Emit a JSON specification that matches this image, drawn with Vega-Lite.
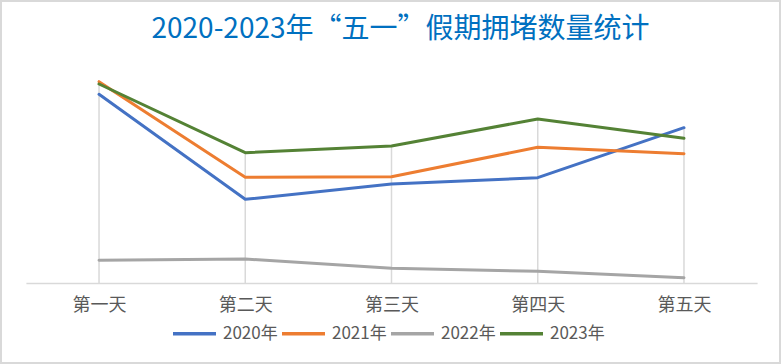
{
  "$schema": "https://vega.github.io/schema/vega-lite/v6.json",
  "width": 779,
  "height": 362,
  "padding": 1,
  "autosize": {"type": "none"},
  "background": "white",
  "config": {
    "view": {"stroke": "#d9d9d9", "strokeWidth": 2},
    "font": "Noto Sans CJK SC"
  },
  "title": {
    "text": "2020-2023年“五一”假期拥堵数量统计",
    "color": "#0070C0",
    "fontSize": 28,
    "fontWeight": "normal",
    "font": "Noto Sans CJK SC",
    "anchor": "middle",
    "frame": "group",
    "offset": 0,
    "dx": 10,
    "dy": 43
  },
  "data": {
    "values": [
      {"day": "第一天", "year": "2020年", "value": 188.7},
      {"day": "第二天", "year": "2020年", "value": 83.7},
      {"day": "第三天", "year": "2020年", "value": 99},
      {"day": "第四天", "year": "2020年", "value": 105.3},
      {"day": "第五天", "year": "2020年", "value": 155.3},
      {"day": "第一天", "year": "2021年", "value": 201.3},
      {"day": "第二天", "year": "2021年", "value": 105.7},
      {"day": "第三天", "year": "2021年", "value": 106.3},
      {"day": "第四天", "year": "2021年", "value": 135.7},
      {"day": "第五天", "year": "2021年", "value": 129.3},
      {"day": "第一天", "year": "2022年", "value": 22.7},
      {"day": "第二天", "year": "2022年", "value": 24},
      {"day": "第三天", "year": "2022年", "value": 14.7},
      {"day": "第四天", "year": "2022年", "value": 11.7},
      {"day": "第五天", "year": "2022年", "value": 5.3},
      {"day": "第一天", "year": "2023年", "value": 199},
      {"day": "第二天", "year": "2023年", "value": 130.3},
      {"day": "第三天", "year": "2023年", "value": 137},
      {"day": "第四天", "year": "2023年", "value": 164},
      {"day": "第五天", "year": "2023年", "value": 144.7}
    ]
  },
  "layer": [
    {
      "mark": {"type": "rule", "color": "#d9d9d9", "strokeWidth": 1.5},
      "encoding": {
        "x": {
          "field": "day", "type": "nominal",
          "sort": ["第一天", "第二天", "第三天", "第四天", "第五天"],
          "scale": {"type": "point", "range": [24.9, 756.1], "padding": 0.5},
          "axis": {
            "title": null, "ticks": false, "grid": false,
            "domainColor": "#d9d9d9", "domainWidth": 1.5,
            "labelColor": "#595959", "labelFontSize": 18, "labelPadding": 13,
            "labelAngle": 0, "offset": -80
          }
        },
        "y": {"aggregate": "max", "field": "value", "type": "quantitative",
              "scale": {"domain": [0, 225], "range": [282, 57]}, "axis": null},
        "y2": {"datum": 0}
      }
    },
    {
      "mark": {"type": "line", "strokeWidth": 3, "strokeCap": "round", "strokeJoin": "round"},
      "encoding": {
        "x": {
          "field": "day", "type": "nominal",
          "sort": ["第一天", "第二天", "第三天", "第四天", "第五天"],
          "scale": {"type": "point", "range": [24.9, 756.1], "padding": 0.5},
          "axis": {
            "title": null, "ticks": false, "grid": false,
            "domainColor": "#d9d9d9", "domainWidth": 1.5,
            "labelColor": "#595959", "labelFontSize": 18, "labelPadding": 13,
            "labelAngle": 0, "offset": -80
          }
        },
        "y": {"field": "value", "type": "quantitative",
              "scale": {"domain": [0, 225], "range": [282, 57]}, "axis": null},
        "color": {
          "field": "year", "type": "nominal",
          "scale": {"domain": ["2020年", "2021年", "2022年", "2023年"],
                    "range": ["#4472C4", "#ED7D31", "#A5A5A5", "#548235"]},
          "legend": {
            "title": null, "orient": "none", "direction": "horizontal",
            "legendX": 170, "legendY": 309, "padding": 0,
            "symbolType": "stroke", "symbolSize": 1849, "symbolStrokeWidth": 3.5,
            "labelFontSize": 17, "labelColor": "#595959", "labelOffset": 5,
            "columnPadding": -3
          }
        }
      }
    }
  ]
}
